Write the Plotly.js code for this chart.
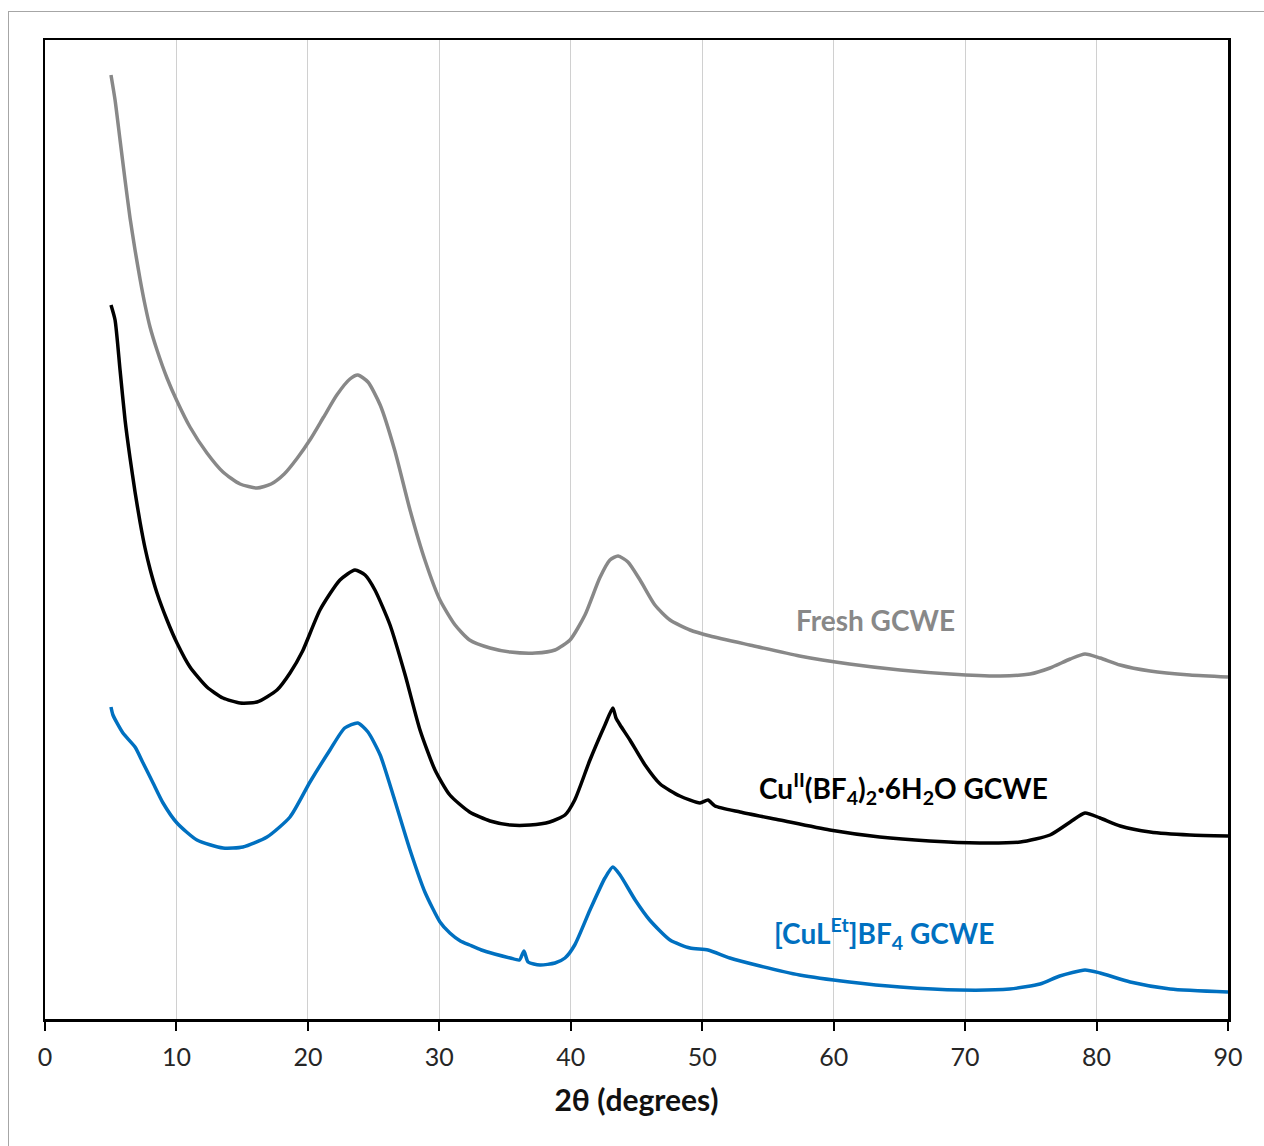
<!DOCTYPE html>
<html>
<head>
<meta charset="utf-8">
<script src="https://cdn.plot.ly/plotly-3.0.1.min.js"></script>
<style>
  html, body { margin: 0; padding: 0; background: #fff; }
  #chart { position: absolute; left: 0; top: 0; width: 1264px; height: 1146px; }
  #frame { position: absolute; left: 8px; top: 11px; width: 1300px; height: 1200px;
           border: 1.5px solid #a6a6a6; pointer-events: none; }
</style>
</head>
<body>
<div id="frame"></div>
<div id="chart"></div>
<script>
// 2θ (degrees) and intensity (arbitrary units, offset traces)
const freshX = [5.02, 5.33, 5.71, 6.09, 6.47, 6.85, 7.23, 7.61, 7.99, 8.52, 9.28, 10.04, 11.03, 12.32, 13.54, 14.84, 16.13, 17.2, 18.2, 19.2, 20.2, 21.2, 22.2, 23.2, 23.8, 24.57, 25.5, 26.6, 27.77, 28.9, 30.05, 31.2, 32.3, 33.86, 35.4, 37.3, 38.8, 39.94, 41.08, 42.2, 42.98, 43.6, 44.35, 45.27, 46.4, 47.55, 49.07, 50.6, 53.6, 57.4, 61.2, 65.05, 68.85, 72.66, 74.94, 76.46, 78.0, 79.12, 80.27, 81.79, 84.07, 87.1, 90.0];
const freshY = [944, 919, 879, 839, 801, 769, 740, 714, 692, 669, 641, 618, 592, 566, 547, 535, 531, 535, 545, 561, 580, 602, 624, 640, 644, 637, 614, 569, 509, 459, 419, 394, 379, 371, 367, 366, 369, 379, 404, 441, 459, 463, 457, 439, 414, 399, 389, 383, 374, 363, 355, 349, 345, 343, 345, 351, 360, 365, 361, 354, 348, 344, 342];

const cuX = [5.02, 5.33, 5.71, 6.09, 6.47, 6.85, 7.23, 7.61, 7.99, 8.52, 9.28, 10.04, 11.03, 12.32, 13.54, 14.84, 16.13, 17.65, 18.64, 19.6, 20.92, 22.44, 23.58, 24.35, 25.1, 26.25, 27.4, 28.53, 29.67, 30.8, 32.3, 33.86, 35.4, 36.9, 38.4, 39.56, 40.3, 41.46, 42.6, 43.2, 43.44, 43.75, 44.5, 45.65, 46.8, 48.3, 49.83, 50.44, 50.97, 52.88, 55.9, 59.7, 63.5, 67.3, 71.1, 74.2, 76.46, 78.0, 79.12, 80.27, 81.8, 84.07, 87.1, 90.0];
const cuY = [714, 699, 649, 599, 561, 527, 497, 471, 450, 426, 399, 376, 352, 332, 321, 316, 317, 329, 346, 368, 409, 439, 449, 444, 429, 394, 344, 289, 249, 224, 207, 198, 194, 194, 197, 204, 219, 259, 294, 311, 301, 294, 279, 254, 235, 223, 216, 219, 213, 207, 199, 189, 182, 178, 176, 177, 184, 197, 206, 201, 193, 187, 184, 183];

const culX = [5.02, 5.17, 5.93, 6.85, 7.46, 8.22, 8.98, 10.04, 11.56, 13.54, 15.06, 16.89, 18.64, 20.16, 21.68, 22.8, 23.8, 24.57, 25.5, 26.6, 27.77, 28.9, 30.05, 30.8, 31.6, 32.3, 33.2, 34.2, 35.4, 36.1, 36.44, 36.75, 37.66, 38.8, 39.56, 40.3, 41.46, 42.6, 43.2, 43.75, 44.9, 46.0, 47.55, 49.07, 50.44, 52.1, 54.4, 57.4, 61.2, 65.05, 69.6, 73.4, 75.7, 77.2, 79.12, 80.27, 82.56, 85.6, 90.0];
const culY = [312, 304, 286, 272, 256, 236, 216, 196, 179, 171, 172, 182, 202, 237, 269, 291, 296, 287, 264, 219, 169, 127, 97, 86, 78, 74, 69, 65, 61, 59, 68, 57, 54, 56, 61, 74, 109, 141, 152, 144, 119, 99, 79, 71, 69, 61, 53, 44, 37, 32, 29, 30, 35, 43, 49, 46, 37, 30, 27];

const xTicks = [0, 10, 20, 30, 40, 50, 60, 70, 80, 90];

const labelFont = 'Lato, "Open Sans", sans-serif';

const traces = [
  { x: freshX, y: freshY, mode: 'lines', line: { color: '#888888', width: 3.5, shape: 'spline', smoothing: 0.6 }, name: 'Fresh GCWE' },
  { x: cuX, y: cuY, mode: 'lines', line: { color: '#000000', width: 3.5, shape: 'spline', smoothing: 0.6 }, name: 'Cu GCWE' },
  { x: culX, y: culY, mode: 'lines', line: { color: '#0070C0', width: 3.5, shape: 'spline', smoothing: 0.6 }, name: '[CuLEt]BF4 GCWE' }
];

const layout = {
  width: 1264, height: 1146,
  margin: { l: 45, r: 36, t: 40, b: 127 },
  paper_bgcolor: 'rgba(0,0,0,0)',
  plot_bgcolor: '#ffffff',
  showlegend: false,
  font: { family: labelFont, color: '#222' },
  xaxis: {
    range: [0, 90], tickvals: xTicks, ticktext: xTicks.map(String),
    ticks: 'outside', ticklen: 9, tickwidth: 2, tickcolor: '#000',
    ticklabelstandoff: 5,
    showline: true, linecolor: '#000', linewidth: 2.5, mirror: true,
    showgrid: true, gridcolor: '#d0d0d0', gridwidth: 1,
    zeroline: false,
    tickfont: { family: labelFont, size: 25, color: '#262626' },
    title: { text: '<b>2θ (degrees)</b>', font: { family: labelFont, size: 30, color: '#111' }, standoff: 21 }
  },
  yaxis: {
    range: [0, 979], showticklabels: false, ticks: '', showgrid: false, zeroline: false,
    showline: true, linecolor: '#000', linewidth: 2.5, mirror: true
  },
  annotations: [
    { x: 63.2, y: 399, xref: 'x', yref: 'y', showarrow: false,
      text: '<b>Fresh GCWE</b>', font: { family: labelFont, size: 28, color: '#888888' } },
    { x: 65.3, y: 231, xref: 'x', yref: 'y', showarrow: false,
      text: '<b>Cu<sup>II</sup>(BF<sub>4</sub>)<sub>2</sub>·6H<sub>2</sub>O GCWE</b>', font: { family: labelFont, size: 28, color: '#000000' } },
    { x: 63.8, y: 86, xref: 'x', yref: 'y', showarrow: false,
      text: '<b>[CuL<sup>Et</sup>]BF<sub>4</sub> GCWE</b>', font: { family: labelFont, size: 28, color: '#0070C0' } }
  ]
};

Plotly.newPlot('chart', traces, layout, { displayModeBar: false, staticPlot: true });
</script>
</body>
</html>
